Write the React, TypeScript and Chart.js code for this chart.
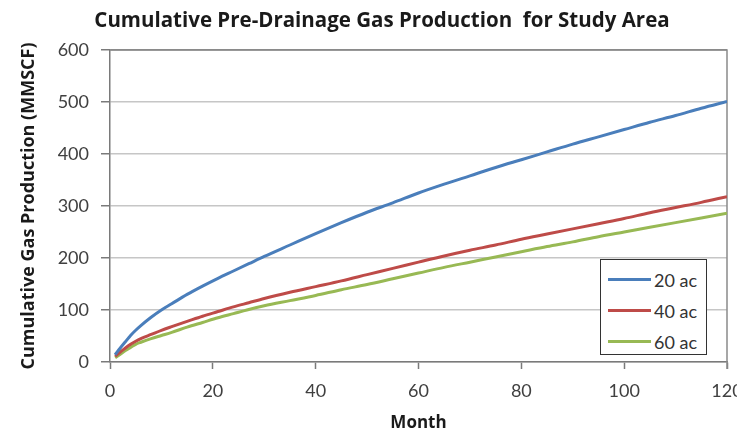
import React, { useEffect, useRef } from "react";
import { Chart, registerables } from "chart.js";

Chart.register(...registerables);

const TITLE = "Cumulative Pre-Drainage Gas Production  for Study Area";
const X_TITLE = "Month";
const Y_TITLE = "Cumulative Gas Production (MMSCF)";

const months = [1, 2, 3, 4, 5, 6, 8, 10, 12, 15, 18, 21, 24, 27, 30, 35, 40, 45, 50, 55, 60, 65, 70, 75, 80, 85, 90, 95, 100, 105, 110, 115, 120];
const series20 = [14, 27, 39, 51, 61, 70, 86, 100, 112, 130, 146, 161, 175, 189, 203, 225, 247, 268, 288, 306, 325, 342, 358, 374, 389, 404, 419, 433, 447, 461, 474, 488, 501];
const series40 = [11, 19, 27, 34, 40, 45, 53, 61, 68, 78, 88, 97, 106, 114, 122, 134, 145, 156, 168, 180, 192, 204, 215, 225, 236, 246, 256, 266, 276, 287, 297, 307, 318];
const series60 = [8, 15, 22, 28, 34, 38, 45, 51, 57, 67, 76, 85, 93, 101, 108, 118, 128, 139, 149, 160, 171, 182, 192, 202, 212, 222, 231, 241, 250, 259, 268, 277, 286];

const seriesNames = ["20 ac", "40 ac", "60 ac"];
const seriesColors = ["#4a7ebb", "#be4b48", "#98b954"];

const FONT = "Lato, 'Open Sans', sans-serif";
const TFONT = "'Open Sans', Lato, sans-serif";

export default function App() {
  const canvasRef = useRef<HTMLCanvasElement | null>(null);

  useEffect(() => {
    document.body.style.margin = "0";
    const canvas = canvasRef.current;
    if (!canvas) return;
    const allSeries = [series20, series40, series60];
    const framePlugin = {
      id: "frame",
      beforeDatasetsDraw(chart: any) {
        const { ctx, chartArea } = chart;
        ctx.save();
        ctx.strokeStyle = "#8a8a8a";
        ctx.lineWidth = 1.5;
        ctx.beginPath();
        ctx.moveTo(chartArea.left, chartArea.top);
        ctx.lineTo(chartArea.right, chartArea.top);
        ctx.lineTo(chartArea.right, chartArea.bottom + 7);
        ctx.stroke();
        ctx.restore();
      },
    };
    const chart = new Chart(canvas, {
      type: "line",
      data: {
        datasets: allSeries.map((s, i) => ({
          label: seriesNames[i],
          data: months.map((m, j) => ({ x: m, y: s[j] })),
          borderColor: seriesColors[i],
          backgroundColor: seriesColors[i],
          borderWidth: 3,
          pointRadius: 0,
          cubicInterpolationMode: "monotone" as const,
          fill: false,
        })),
      },
      options: {
        responsive: false,
        animation: false,
        devicePixelRatio: 1,
        layout: { padding: { left: 0, right: 23, top: 50, bottom: 0 } },
        plugins: {
          legend: { display: false },
          tooltip: { enabled: false },
          title: { display: false },
        },
        scales: {
          x: {
            type: "linear",
            min: 0,
            max: 120,
            afterFit(scale: any) {
              scale.height = 74;
              scale.paddingRight = 0;
              scale.paddingLeft = 0;
            },
            ticks: {
              stepSize: 20,
              color: "#404040",
              padding: 11,
              maxRotation: 0,
              font: { family: FONT, size: 18 },
            },
            grid: {
              drawOnChartArea: false,
              drawTicks: true,
              tickLength: 7,
              tickColor: "#7a7a7a",
              tickWidth: 1.5,
            },
            border: { color: "#7a7a7a", width: 1.5 },
            title: {
              display: true,
              text: X_TITLE,
              color: "#1a1a1a",
              font: { family: TFONT, size: 17, weight: "bold" },
              padding: { top: 0, bottom: 3 },
            },
          },
          y: {
            min: 0,
            max: 600,
            afterFit(scale: any) {
              scale.width = 110;
              scale.paddingTop = 0;
            },
            ticks: {
              stepSize: 100,
              color: "#404040",
              padding: 12,
              font: { family: FONT, size: 18 },
            },
            grid: {
              color: (ctx: any) => (ctx.tick && ctx.tick.value === 600 ? "#8a8a8a" : "#c6c6c6"),
              lineWidth: 1.5,
              drawTicks: true,
              tickLength: 9,
              tickColor: "#7a7a7a",
              tickWidth: 1.5,
            },
            border: { color: "#7a7a7a", width: 1.5 },
            title: {
              display: true,
              text: Y_TITLE,
              color: "#1a1a1a",
              font: { family: TFONT, size: 18, weight: "bold" },
              padding: { top: 18, bottom: 0 },
            },
          },
        },
      },
      plugins: [framePlugin],
    });
    return () => chart.destroy();
  }, []);

  return (
    <div style={{ position: "relative", width: 750, height: 436, background: "#fff" }}>
      <div style={{ position: "absolute", left: 0, top: 0, width: 737, height: 436, overflow: "hidden" }}>
        <canvas ref={canvasRef} width={750} height={436} style={{ width: 750, height: 436, display: "block" }} />
      </div>
      <div
        style={{
          position: "absolute",
          left: 0,
          top: 5,
          width: 764,
          height: 28,
          lineHeight: "28px",
          textAlign: "center",
          whiteSpace: "pre",
          fontFamily: TFONT,
          fontWeight: "bold",
          fontSize: 20.5,
          color: "#1a1a1a",
        }}
      >
        {TITLE}
      </div>
      <div
        style={{
          position: "absolute",
          left: 600,
          top: 259,
          width: 107,
          height: 96,
          boxSizing: "border-box",
          border: "1.5px solid #333",
          background: "#fff",
          fontFamily: FONT,
          fontSize: 18,
          color: "#333",
          paddingTop: 4,
        }}
      >
        {seriesNames.map((n, i) => (
          <div key={n} style={{ display: "flex", alignItems: "center", height: 31, paddingLeft: 7 }}>
            <div style={{ width: 43, height: 3, background: seriesColors[i], marginRight: 3 }} />
            <span>{n}</span>
          </div>
        ))}
      </div>
    </div>
  );
}
